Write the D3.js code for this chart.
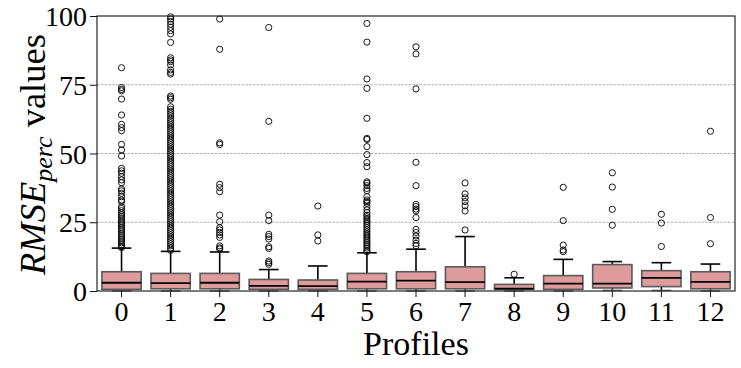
<!DOCTYPE html>
<html>
<head>
<meta charset="utf-8">
<script src="https://cdn.jsdelivr.net/npm/d3@7"></script>
<style>
  html, body { margin: 0; padding: 0; background: #fff; }
  svg { display: block; }
</style>
</head>
<body>
<svg id="chart" width="741" height="368"></svg>
<script>
// ---- Data ----
const categories = ["0","1","2","3","4","5","6","7","8","9","10","11","12"];
const q1      = [0.6, 0.8, 0.8, 0.6, 0.6, 0.8, 0.8, 0.8, 0.6, 0.6, 1.1, 1.6, 0.8];
const medians = [3.0, 2.9, 3.0, 1.9, 1.8, 3.4, 3.75, 3.2, 0.85, 2.7, 2.7, 4.8, 3.3];
const q3      = [7.0, 6.4, 6.4, 4.2, 4.0, 6.4, 7.0, 8.8, 2.4, 5.6, 9.6, 7.4, 7.0];
const whiskLo = [0.0, 0.0, 0.0, 0.0, 0.0, 0.0, 0.0, 0.0, 0.0, 0.0, 0.2, 0.2, 0.0];
const whiskHi = [15.6, 14.4, 14.2, 7.8, 9.1, 13.9, 15.2, 19.8, 4.8, 11.5, 10.7, 10.3, 9.8];

const outliers0 = [81.2, 74.0, 73.3, 72.8, 69.8, 64.0, 60.6, 59.4, 58.3, 53.3, 51.3, 49.1, 44.6, 43.7,
  42.8, 41.6, 40.4, 39.4, 37.1, 36.4, 35.5, 34.3, 33.1, 32.5, 30.7, 30.0, 29.2, 28.4, 27.7, 27.0,
  26.2, 25.4, 24.7, 24.0, 23.2, 22.5, 21.8, 21.0, 20.3, 19.6, 18.9, 18.2, 17.5, 16.8, 16.2, 15.8];
const outliers1 = [99.7, 98.9, 98.0, 97.0, 95.9, 94.7, 93.5, 90.4, 84.8, 84.0, 83.4, 82.2, 80.4, 79.5,
  78.9, 70.9, 70.3, 69.7, 67.0, 66.1, 65.3, 64.5, 63.7, 62.8, 62.0, 61.2, 60.4, 59.6, 58.8, 58.0,
  57.2, 56.4, 55.6, 54.8, 54.0, 53.2, 52.4, 51.6, 50.8, 50.0, 49.2, 48.4, 47.6, 46.8, 46.0, 45.2,
  44.4, 43.6, 42.8, 42.0, 41.2, 40.4, 39.6, 38.8, 38.0, 37.2, 36.4, 35.6, 34.8, 34.0, 33.2, 32.4,
  31.6, 30.8, 30.0, 29.2, 28.4, 27.6, 26.8, 26.0, 25.2, 24.4, 23.6, 22.8, 22.0, 21.2, 20.4, 19.6,
  18.8, 18.0, 17.2, 16.4, 15.6, 14.8];
const outliers2 = [98.9, 87.9, 53.9, 53.3, 38.8, 37.6, 36.1, 27.6, 25.2, 23.0, 22.2, 21.3, 20.4, 19.5, 16.4, 15.7, 15.3];
const outliers3 = [95.8, 61.7, 27.6, 25.6, 20.6, 19.8, 18.9, 16.1, 15.5, 10.9, 10.3, 9.7];
const outliers4 = [30.9, 20.4, 18.2];
const outliers5 = [97.3, 90.5, 77.1, 73.7, 62.8, 55.5, 55.1, 52.5, 49.6, 46.7, 45.2, 39.7, 39.2, 38.3,
  37.3, 36.5, 34.3, 33.1, 32.5, 31.9, 30.7, 29.5, 28.5, 27.6, 27.0, 26.1, 25.4, 24.6, 23.9, 23.1,
  22.3, 21.5, 20.7, 20.0, 19.2, 18.5, 17.7, 17.0, 16.3, 15.6, 14.8, 14.3];
const outliers6 = [88.8, 86.2, 73.5, 46.8, 38.3, 31.5, 30.7, 29.8, 29.1, 26.7, 22.4, 21.3, 20.0, 18.5, 17.3, 16.5];
const outliers7 = [39.3, 35.3, 33.9, 32.5, 31.0, 29.1, 22.2];
const outliers8 = [6.1];
const outliers9 = [37.7, 25.6, 16.7, 14.9, 14.3];
const outliers10 = [43.0, 37.8, 29.7, 23.9];
const outliers11 = [27.9, 24.7, 16.2];
const outliers12 = [58.1, 26.7, 17.2];
const outliers = [outliers0, outliers1, outliers2, outliers3, outliers4, outliers5, outliers6,
  outliers7, outliers8, outliers9, outliers10, outliers11, outliers12];

const yTicks = [0, 25, 50, 75, 100];
const gridValues = [25, 50, 75];
const xTitle = "Profiles";

// ---- Layout ----
const FONT = '"Liberation Serif", "Times New Roman", serif';
const W = 741, H = 368;
const margin = { top: 16, right: 6, bottom: 77, left: 97 };
const iw = W - margin.left - margin.right;
const ih = H - margin.top - margin.bottom;

const svg = d3.select("#chart");
const g = svg.append("g").attr("transform", `translate(${margin.left},${margin.top})`);

const x = d3.scaleBand().domain(categories).range([0, iw]).paddingInner(0.2).paddingOuter(0.1);
const xc = d3.scaleBand().domain(categories).range([0, iw]);
const y = d3.scaleLinear().domain([0, 100]).range([ih, 0]);

// Grid
g.append("g").selectAll("line").data(gridValues).join("line")
  .attr("x1", 0).attr("x2", iw)
  .attr("y1", d => y(d)).attr("y2", d => y(d))
  .attr("stroke", "#9a9a9a").attr("stroke-width", 0.8)
  .attr("stroke-dasharray", "2.6,1.2");

const boxColor = "#dd9c9b";
const edgeColor = "#5a5a5a";
const bw = x.bandwidth();

const groups = g.append("g").selectAll("g").data(categories).join("g")
  .attr("transform", d => `translate(${xc(d) + xc.bandwidth() / 2},0)`);

// whiskers
groups.append("line")
  .attr("x1", 0).attr("x2", 0)
  .attr("y1", (d, i) => y(q3[i])).attr("y2", (d, i) => y(whiskHi[i]))
  .attr("stroke", "#000").attr("stroke-width", 1.6);
groups.append("line")
  .attr("x1", 0).attr("x2", 0)
  .attr("y1", (d, i) => y(q1[i])).attr("y2", (d, i) => y(whiskLo[i]))
  .attr("stroke", "#000").attr("stroke-width", 1.6);
// caps
groups.append("line")
  .attr("x1", -bw / 4).attr("x2", bw / 4)
  .attr("y1", (d, i) => y(whiskHi[i])).attr("y2", (d, i) => y(whiskHi[i]))
  .attr("stroke", "#000").attr("stroke-width", 1.6);
groups.append("line")
  .attr("x1", -bw / 4).attr("x2", bw / 4)
  .attr("y1", (d, i) => y(whiskLo[i])).attr("y2", (d, i) => y(whiskLo[i]))
  .attr("stroke", "#777").attr("stroke-width", 1.6);

// boxes
groups.append("rect")
  .attr("x", -bw / 2).attr("width", bw)
  .attr("y", (d, i) => y(q3[i]))
  .attr("height", (d, i) => y(q1[i]) - y(q3[i]))
  .attr("fill", boxColor).attr("stroke", edgeColor).attr("stroke-width", 1.6);
// medians
groups.append("line")
  .attr("x1", -bw / 2).attr("x2", bw / 2)
  .attr("y1", (d, i) => y(medians[i])).attr("y2", (d, i) => y(medians[i]))
  .attr("stroke", "#000").attr("stroke-width", 1.8);

// outliers
groups.each(function (d, i) {
  d3.select(this).selectAll("circle").data(outliers[i]).join("circle")
    .attr("cx", 0).attr("cy", v => y(v)).attr("r", 3.1)
    .attr("fill", "none").attr("stroke", "#000").attr("stroke-width", 0.9);
});

// Frame
g.append("rect").attr("x", 0).attr("y", 0).attr("width", iw).attr("height", ih)
  .attr("fill", "none").attr("stroke", "#111").attr("stroke-width", 1.1);

// Y axis
const yAxis = g.append("g").call(d3.axisLeft(y).tickValues(yTicks).tickSize(7).tickPadding(3).tickFormat(d3.format("d")));
yAxis.attr("font-family", FONT).attr("font-size", 28);
yAxis.select(".domain").remove();
yAxis.selectAll("line").attr("stroke", "#111").attr("stroke-width", 1);
yAxis.selectAll("text").style("font-family", FONT).style("font-size", "28px").attr("fill", "#000").attr("dy", "0.34em");

// X axis
const xAxis = g.append("g").attr("transform", `translate(0,${ih})`)
  .call(d3.axisBottom(xc).tickSize(6).tickPadding(4));
xAxis.attr("font-family", FONT).attr("font-size", 28);
xAxis.select(".domain").remove();
xAxis.selectAll("line").attr("stroke", "#111").attr("stroke-width", 1);
xAxis.selectAll("text").style("font-family", FONT).style("font-size", "28px").attr("fill", "#000").attr("dy", "0.72em");

// X title
svg.append("text")
  .attr("x", margin.left + iw / 2).attr("y", 355)
  .attr("text-anchor", "middle")
  .style("font-family", FONT)
  .style("font-size", "34px")
  .text(xTitle);

// Y title
const yt = svg.append("text")
  .attr("transform", `translate(45,${margin.top + ih / 2 + 1}) rotate(-90)`)
  .attr("text-anchor", "middle")
  .style("font-family", FONT)
  .style("font-size", "36.5px");
yt.append("tspan").style("font-style", "italic").text("RMSE");
yt.append("tspan").style("font-style", "italic").style("font-size", "26px").attr("dy", 7).text("perc");
yt.append("tspan").attr("dy", -7).text(" values");
</script>
</body>
</html>
